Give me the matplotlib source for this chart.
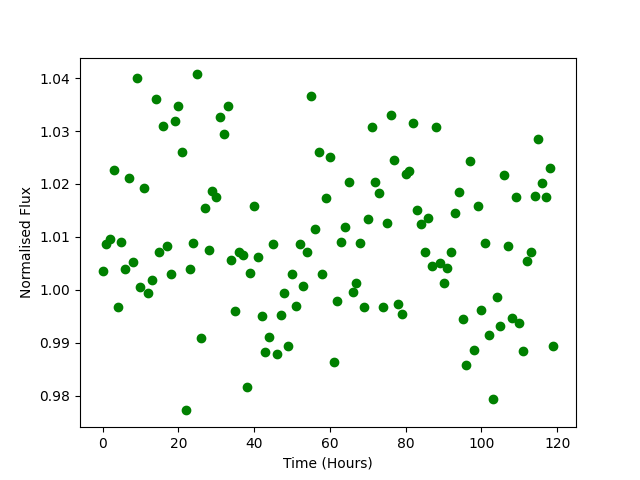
import matplotlib
matplotlib.use('Agg')
import matplotlib.pyplot as plt
import numpy as np

time = np.arange(0, 120)  # hours
flux = [1.0036, 1.0086, 1.0095, 1.0226, 0.9967, 1.0091, 1.0040, 1.0212, 1.0052, 1.0401,
        1.0006, 1.0193, 0.9993, 1.0018, 1.0360, 1.0071, 1.0310, 1.0082, 1.0029, 1.0318,
        1.0348, 1.0260, 0.9772, 1.0040, 1.0089, 1.0407, 0.9908, 1.0154, 1.0076, 1.0186,
        1.0176, 1.0326, 1.0295, 1.0347, 1.0057, 0.9959, 1.0072, 1.0065, 0.9817, 1.0031,
        1.0159, 1.0061, 0.9951, 0.9882, 0.9910, 1.0086, 0.9878, 0.9953, 0.9993, 0.9893,
        1.0029, 0.9970, 1.0086, 1.0008, 1.0071, 1.0367, 1.0114, 1.0261, 1.0029, 1.0173,
        1.0251, 0.9863, 0.9978, 1.0090, 1.0118, 1.0203, 0.9995, 1.0012, 1.0088, 0.9967,
        1.0133, 1.0307, 1.0203, 1.0182, 0.9967, 1.0126, 1.0331, 1.0246, 0.9974, 0.9955,
        1.0218, 1.0224, 1.0316, 1.0150, 1.0124, 1.0072, 1.0135, 1.0044, 1.0307, 1.0050,
        1.0012, 1.0042, 1.0072, 1.0146, 1.0184, 0.9944, 0.9857, 1.0244, 0.9887, 1.0159,
        0.9961, 1.0088, 0.9914, 0.9793, 0.9986, 0.9932, 1.0216, 1.0082, 0.9946, 1.0175,
        0.9938, 0.9885, 1.0054, 1.0072, 1.0178, 1.0284, 1.0201, 1.0176, 1.0231, 0.9893]

fig = plt.figure(figsize=(6.4, 4.8), dpi=100)
plt.plot(time, flux, 'go')
plt.xlabel('Time (Hours)')
plt.ylabel('Normalised Flux')
plt.savefig('out.png')
